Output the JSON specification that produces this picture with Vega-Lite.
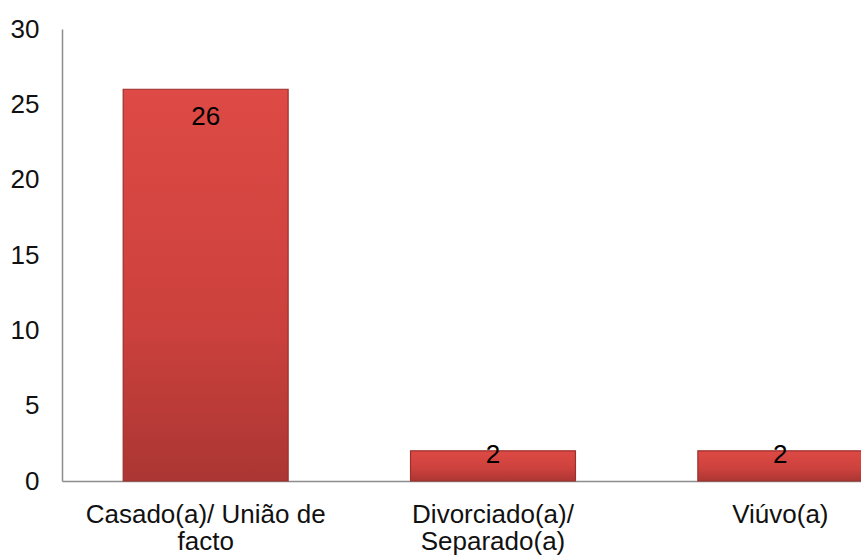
{
  "$schema": "https://vega.github.io/schema/vega-lite/v6.json",
  "width": 862,
  "height": 452,
  "autosize": "none",
  "padding": {"left": 62, "top": 29, "right": 0, "bottom": 75},
  "background": "white",
  "config": {"view": {"stroke": null}, "font": "Liberation Sans"},
  "data": {"values": [
    {"estado": "Casado(a)/ União de facto", "n": 26},
    {"estado": "Divorciado(a)/ Separado(a)", "n": 2},
    {"estado": "Viúvo(a)", "n": 2}
  ]},
  "encoding": {
    "x": {"field": "estado", "type": "nominal", "sort": null,
      "scale": {"paddingInner": 0.426, "paddingOuter": 0.213},
      "axis": {"title": null, "labelAngle": 0, "ticks": false, "domainColor": "#8c8c8c", "domainWidth": 1.5,
        "labelFontSize": 26, "labelColor": "#111", "labelPadding": 20, "labelLineHeight": 27, "labelBaseline": "top", "labelLimit": 0,
        "labelExpr": "datum.label == 'Casado(a)/ União de facto' ? ['Casado(a)/ União de', 'facto'] : datum.label == 'Divorciado(a)/ Separado(a)' ? ['Divorciado(a)/', 'Separado(a)'] : datum.label"}},
    "y": {"field": "n", "type": "quantitative",
      "scale": {"domain": [0, 30], "nice": false},
      "axis": {"title": null, "values": [0, 5, 10, 15, 20, 25, 30], "grid": false, "ticks": false,
        "domainColor": "#8c8c8c", "domainWidth": 1.5, "labelFontSize": 26, "labelColor": "#111", "labelPadding": 23}}
  },
  "layer": [
    {"mark": {"type": "bar", "stroke": "#9c2e2b", "strokeWidth": 1.2,
      "fill": {"gradient": "linear", "x1": 0, "y1": 0, "x2": 0, "y2": 1,
        "stops": [
          {"offset": 0, "color": "#de4a45"},
          {"offset": 0.6, "color": "#cc413d"},
          {"offset": 1, "color": "#ab3633"}
        ]}}},
    {"transform": [{"filter": "datum.n >= 10"}],
      "mark": {"type": "text", "baseline": "middle", "dy": 28, "fontSize": 26, "color": "#000"},
      "encoding": {"text": {"field": "n", "type": "quantitative"}}},
    {"transform": [{"filter": "datum.n < 10"}],
      "mark": {"type": "text", "baseline": "middle", "dy": 4, "fontSize": 26, "color": "#000"},
      "encoding": {"text": {"field": "n", "type": "quantitative"}}}
  ]
}
